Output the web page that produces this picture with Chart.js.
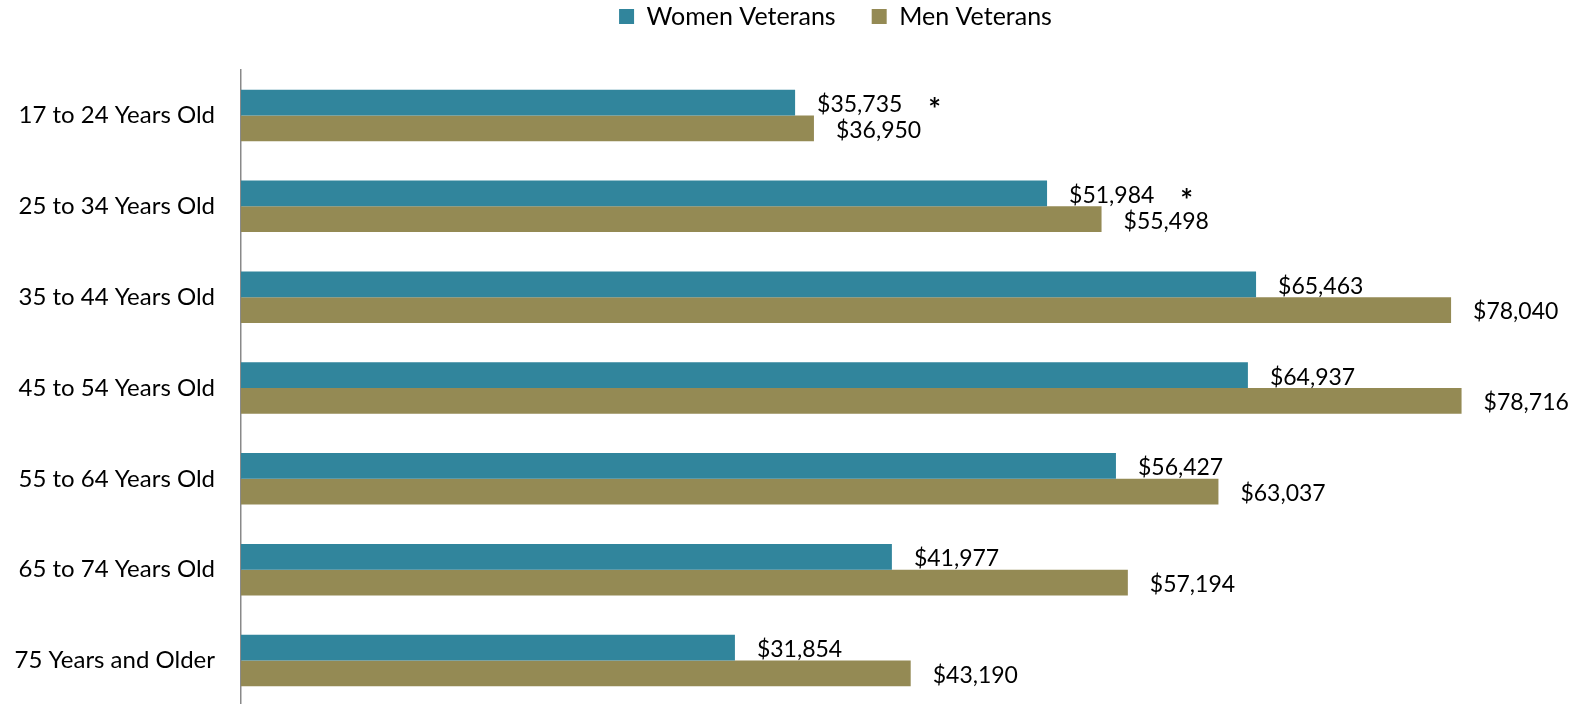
<!DOCTYPE html>
<html>
<head>
<meta charset="utf-8">
<script src="https://cdn.jsdelivr.net/npm/chart.js@4.4.1/dist/chart.umd.min.js"></script>
<style>
    html, body { margin: 0; padding: 0; background: #fff; overflow: hidden; }
</style>
</head>
<body>
<canvas id="chart" width="1583" height="706"></canvas>
<script>
// data
const CATEGORIES = [
    '17 to 24 Years Old', '25 to 34 Years Old', '35 to 44 Years Old',
    '45 to 54 Years Old', '55 to 64 Years Old', '65 to 74 Years Old',
    '75 Years and Older'
];
const WOMEN = [35735, 51984, 65463, 64937, 56427, 41977, 31854];
const MEN = [36950, 55498, 78040, 78716, 63037, 57194, 43190];
// women values marked with an asterisk (significant difference)
const WOMEN_SIG = [true, true, false, false, false, false, false];
const X_MAX = 85000;

const TEAL = '#31859C';
const OLIVE = '#948A54';
const FONT = 'Lato';

const fmt = v => '$' + v.toLocaleString('en-US');

// legend: fixed height above the plot, text pulled up and nudged right
const legendSpace = {
    id: 'legendSpace',
    beforeInit(chart) {
        const origFit = chart.legend.fit;
        chart.legend.fit = function () {
            origFit.call(this);
            this.height = 70;
        };
    },
    afterLayout(chart) {
        const lg = chart.legend;
        lg.top -= 32;
        lg.bottom -= 32;
        lg.left += 56;
        lg.right += 56;
    }
};

// value labels to the right of each bar
const valueLabels = {
    id: 'valueLabels',
    afterDatasetsDraw(chart) {
        const ctx = chart.ctx;
        ctx.save();
        ctx.fillStyle = '#000';
        ctx.textBaseline = 'middle';
        ctx.textAlign = 'left';
        chart.data.datasets.forEach((ds, di) => {
            chart.getDatasetMeta(di).data.forEach((bar, i) => {
                const txt = fmt(ds.data[i]);
                const x = bar.x + 22;
                const y = bar.y + 2;
                ctx.font = '23px ' + FONT;
                ctx.fillText(txt, x, y);
                if (di === 0 && WOMEN_SIG[i]) {
                    const w = ctx.measureText(txt).width;
                    ctx.font = 'bold 30px ' + FONT;
                    ctx.fillText('*', x + w + 26, y + 6);
                }
            });
        });
        ctx.restore();
    }
};

new Chart(document.getElementById('chart'), {
    type: 'bar',
    data: {
        labels: CATEGORIES,
        datasets: [
            { label: 'Women Veterans', data: WOMEN, backgroundColor: TEAL },
            { label: 'Men Veterans', data: MEN, backgroundColor: OLIVE }
        ]
    },
    options: {
        indexAxis: 'y',
        responsive: false,
        animation: false,
        categoryPercentage: 0.567,
        barPercentage: 1,
        layout: { padding: { left: 0, right: 24, top: 0, bottom: 0 } },
        plugins: {
            legend: {
                position: 'top',
                align: 'center',
                labels: {
                    boxWidth: 15,
                    boxHeight: 15,
                    padding: 36,
                    color: '#000',
                    font: { family: FONT, size: 25 }
                }
            },
            tooltip: { enabled: false }
        },
        scales: {
            x: { display: false, min: 0, max: X_MAX },
            y: {
                grid: { display: false, drawTicks: false },
                border: { display: true, color: '#898989', width: 1.5 },
                ticks: { padding: 26, color: '#000', font: { family: FONT, size: 24 } },
                afterFit(scale) {
                    // fixed label column, no extra space above/below the bars
                    scale.width = 241;
                    scale.paddingTop = 0;
                    scale.paddingBottom = 0;
                }
            }
        }
    },
    plugins: [legendSpace, valueLabels]
});
</script>
</body>
</html>
